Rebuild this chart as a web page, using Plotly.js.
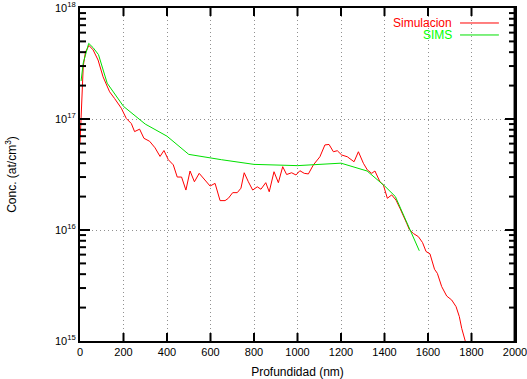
<!DOCTYPE html>
<html>
<head>
<meta charset="utf-8">
<script src="https://cdn.plot.ly/plotly-3.0.1.min.js"></script>
<style>html,body{margin:0;padding:0;background:#fff;overflow:hidden;width:527px;height:379px;}#chart{width:527px;height:379px;display:block;}</style>
</head>
<body>
<div id="chart"></div>
<script>
// Simulacion (red)
const simDepth = [0, 8, 15, 25, 41, 60, 83, 106, 136, 159, 190, 213, 236, 251, 274, 294, 320, 345, 368, 386, 406, 429, 447, 467, 487, 506, 526, 548, 575, 598, 621, 644, 667, 682, 702, 723, 740, 755, 774, 794, 815, 832, 854, 870, 892, 912, 932, 950, 973, 993, 1011, 1031, 1050, 1073, 1103, 1126, 1145, 1165, 1183, 1203, 1229, 1260, 1280, 1303, 1321, 1341, 1356, 1379, 1395, 1413, 1433, 1453, 1471, 1487, 1502, 1514, 1533, 1556, 1575, 1591, 1609, 1630, 1643, 1663, 1686, 1709, 1729, 1744, 1755, 1770, 1785];
const simConc = [6.0e16, 1.5e17, 3.0e17, 4.0e17, 4.6e17, 4.2e17, 3.4e17, 2.4e17, 1.76e17, 1.53e17, 1.25e17, 1.01e17, 9.1e16, 7.7e16, 8.1e16, 6.7e16, 6.3e16, 5.5e16, 4.6e16, 5.2e16, 4.3e16, 3.86e16, 3.0e16, 3.0e16, 2.29e16, 3.4e16, 2.72e16, 3.24e16, 2.82e16, 2.49e16, 2.63e16, 1.84e16, 1.84e16, 1.93e16, 2.17e16, 2.17e16, 2.38e16, 3.28e16, 2.72e16, 2.29e16, 2.45e16, 2.33e16, 2.67e16, 2.21e16, 3.35e16, 2.67e16, 3.72e16, 3.16e16, 3.28e16, 3.13e16, 3.42e16, 3.24e16, 3.2e16, 3.86e16, 4.57e16, 5.84e16, 5.9e16, 5.07e16, 5.18e16, 4.74e16, 4.57e16, 4.12e16, 5.07e16, 3.99e16, 3.48e16, 3.24e16, 3.4e16, 2.72e16, 2.54e16, 1.93e16, 2.07e16, 1.86e16, 1.57e16, 1.36e16, 1.15e16, 1.01e16, 9.3e15, 8.7e15, 7.7e15, 6.4e15, 6.1e15, 4.43e15, 4.07e15, 3.09e15, 2.54e15, 2.34e15, 2.04e15, 1.66e15, 1.30e15, 1.02e15, 8.0e14];

// SIMS (green)
const simsDepth = [5, 15, 40, 60, 85, 125, 200, 300, 400, 500, 650, 800, 1000, 1200, 1320, 1400, 1450, 1500, 1560];
const simsConc = [2.2e17, 3.2e17, 4.8e17, 4.4e17, 3.8e17, 2.1e17, 1.3e17, 9.0e16, 7.0e16, 4.8e16, 4.3e16, 3.9e16, 3.8e16, 4.0e16, 3.4e16, 2.5e16, 2.0e16, 1.2e16, 6.5e15];

const xTicks = [0, 200, 400, 600, 800, 1000, 1200, 1400, 1600, 1800, 2000];
const yTicks = [1e15, 1e16, 1e17, 1e18];
const yTickText = ['10<sup>15</sup>', '10<sup>16</sup>', '10<sup>17</sup>', '10<sup>18</sup>'];
const yMinorTicks = [];
[1e15, 1e16, 1e17].forEach(d => { for (let k = 2; k <= 9; k++) yMinorTicks.push(k * d); });
const seriesNames = ['Simulacion', 'SIMS'];
const seriesColors = ['#ff0000', '#00e000'];
const labelColors = ['#ff0000', '#00ff00'];
const ink = '#000000';

const font = {family: 'Liberation Sans, Arial, sans-serif', size: 11, color: '#000'};

const traces = [
  {x: simDepth, y: simConc, mode: 'lines', name: seriesNames[0], line: {color: seriesColors[0], width: 1}, showlegend: false},
  {x: simsDepth, y: simsConc, mode: 'lines', name: seriesNames[1], line: {color: seriesColors[1], width: 1}, showlegend: false}
];

const legendY = [0.955, 0.919];
const annotations = seriesNames.map((n, i) => ({
  xref: 'paper', yref: 'paper', x: 0.859, y: legendY[i], xanchor: 'right', yanchor: 'middle',
  text: n, showarrow: false, font: {family: font.family, size: 12, color: labelColors[i]}
}));
const shapes = seriesNames.map((n, i) => ({
  type: 'line', xref: 'paper', yref: 'paper', x0: 0.8736, x1: 0.963, y0: legendY[i], y1: legendY[i],
  line: {color: seriesColors[i], width: 1}
}));
// frame (right edge)
shapes.push({type: 'line', xref: 'paper', yref: 'paper', x0: 0.999, x1: 0.999, y0: 0, y1: 1, line: {color: ink, width: 2}});

// tick marks drawn as shapes (bottom/top for x, left/right for y)
const plotW = 435, plotH = 333;
const xLen = 8 / plotH, yMajLen = 10 / plotW, yMinLen = 6 / plotW;
xTicks.slice(1, -1).forEach(v => {
  shapes.push({type: 'line', xref: 'x', yref: 'paper', x0: v, x1: v, y0: 0, y1: xLen, line: {color: ink, width: 2}});
  shapes.push({type: 'line', xref: 'x', yref: 'paper', x0: v, x1: v, y0: 1 - xLen, y1: 1, line: {color: ink, width: 2}});
});
yTicks.slice(1, -1).forEach(v => {
  const lv = Math.log10(v);
  shapes.push({type: 'line', xref: 'paper', yref: 'y2', x0: 0, x1: yMajLen, y0: lv, y1: lv, line: {color: ink, width: 2}});
  shapes.push({type: 'line', xref: 'paper', yref: 'y2', x0: 1 - yMajLen, x1: 1, y0: lv, y1: lv, line: {color: ink, width: 2}});
});
yMinorTicks.forEach(v => {
  const lv = Math.log10(v);
  shapes.push({type: 'line', xref: 'paper', yref: 'y2', x0: 0, x1: yMinLen, y0: lv, y1: lv, line: {color: ink, width: 2}});
  shapes.push({type: 'line', xref: 'paper', yref: 'y2', x0: 1 - yMinLen, x1: 1, y0: lv, y1: lv, line: {color: ink, width: 2}});
});

const layout = {
  width: 527, height: 379,
  margin: {l: 80, r: 12, t: 8, b: 38, pad: 0},
  paper_bgcolor: '#fff', plot_bgcolor: '#fff',
  font: font,
  showlegend: false,
  xaxis: {
    range: [0, 2000], tickmode: 'array', tickvals: xTicks, ticktext: xTicks.map(String),
    ticks: '', showline: true, linecolor: ink, linewidth: 2, mirror: true,
    showgrid: true, gridcolor: '#909090', griddash: '1px,3px', gridwidth: 1,
    zeroline: false, tickfont: {size: 11}, automargin: false, ticklabeloverflow: 'allow',
    title: {text: 'Profundidad (nm)', font: {size: 12}, standoff: 10}
  },
  yaxis: {
    type: 'log', range: [15, 18], tickmode: 'array', tickvals: yTicks, ticktext: yTickText,
    ticks: '', showline: true, linecolor: ink, linewidth: 2, mirror: true,
    showgrid: true, gridcolor: '#909090', griddash: '1px,3px', gridwidth: 1,
    zeroline: false, tickfont: {size: 11}, automargin: false,
    title: {text: 'Conc. (at/cm<sup>3</sup>)', font: {size: 12}, standoff: 36}
  },
  yaxis2: {
    type: 'linear', range: [15, 18], overlaying: 'y', side: 'right', visible: false,
    showticklabels: false, showline: false, showgrid: false, zeroline: false, automargin: false
  },
  annotations: annotations,
  shapes: shapes
};

Plotly.newPlot('chart', traces, layout, {staticPlot: true, displayModeBar: false});
</script>
</body>
</html>
